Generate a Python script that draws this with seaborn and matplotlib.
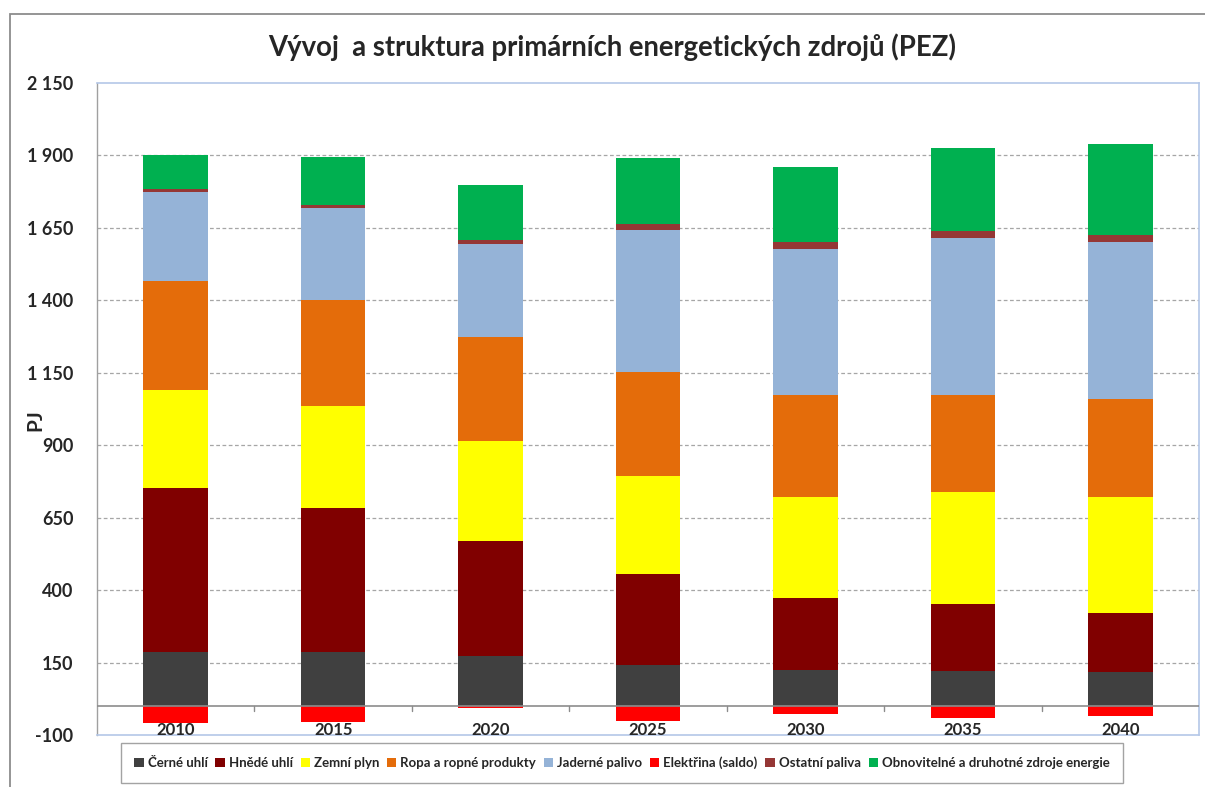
import numpy as np
import pandas as pd
import seaborn as sns
import matplotlib.pyplot as plt
from matplotlib.patches import Patch, Rectangle

years = ["2010", "2015", "2020", "2025", "2030", "2035", "2040"]

cerne_uhli = [188, 185, 174, 140, 126, 122, 116]
hnede_uhli = [566, 500, 394, 314, 248, 231, 206]
zemni_plyn = [338, 349, 345, 341, 346, 384, 401]
ropa = [373, 366, 359, 356, 352, 335, 335]
jaderne = [308, 318, 321, 491, 504, 543, 543]
ostatni = [10, 10, 14, 20, 25, 24, 23]
obnovitelne = [117, 165, 190, 229, 259, 288, 316]
elektrina = [-57, -54, -8, -50, -26, -43, -36]

y_ticks = [-100, 150, 400, 650, 900, 1150, 1400, 1650, 1900, 2150]

series = [
    ("Černé uhlí", cerne_uhli, "#404040"),
    ("Hnědé uhlí", hnede_uhli, "#800000"),
    ("Zemní plyn", zemni_plyn, "#FFFF00"),
    ("Ropa a ropné produkty", ropa, "#E46C0A"),
    ("Jaderné palivo", jaderne, "#95B3D7"),
    ("Elektřina (saldo)", elektrina, "#FF0000"),
    ("Ostatní paliva", ostatni, "#953735"),
    ("Obnovitelné a druhotné zdroje energie", obnovitelne, "#00B050"),
]

sns.set_style("white")
plt.rcParams["font.family"] = ["Lato", "DejaVu Sans"]

fig = plt.figure(figsize=(12.05, 7.87), dpi=100)
ax = fig.add_axes([97 / 1205, 1 - 735 / 787, 1102 / 1205, 652 / 787])

bottom = np.zeros(len(years))
for name, vals, col in series:
    df = pd.DataFrame({"rok": years, "PJ": vals})
    if name == "Elektřina (saldo)":
        sns.barplot(df, x="rok", y="PJ", color=col, width=0.41, ax=ax,
                    saturation=1, edgecolor="none", zorder=3)
        continue
    sns.barplot(df, x="rok", y="PJ", color=col, width=0.41, ax=ax,
                saturation=1, bottom=bottom, edgecolor="none", zorder=3)
    bottom = bottom + np.array(vals)

ax.set_xlim(-0.5, 6.5)
ax.set_ylim(-100, 2150)
ax.set_yticks(y_ticks, labels=[f"{v:,}".replace(",", " ") for v in y_ticks])
for v in y_ticks[1:-1]:
    ax.axhline(v, color="#A6A6A6", lw=0.9, ls=(0, (3, 2)), zorder=1)
ax.axhline(0, color="#8C8C8C", lw=1.2, zorder=4)

ax.set_xlabel("")
ax.set_ylabel("PJ", fontsize=15, fontweight="bold")
ax.yaxis.set_label_coords(-0.047, 0.483)
ax.tick_params(axis="y", length=6, width=1, color="#A0A0A0", direction="out", pad=11,
               labelsize=13)

# x labels just below zero line, like the category axis crossing at 0
ax.tick_params(axis="x", length=0, labelbottom=False)
for i, y in enumerate(years):
    ax.text(i, -82, y, ha="center", va="center", fontsize=12, fontweight="bold", zorder=5)
for xm in [0.5, 1.5, 2.5, 3.5, 4.5, 5.5]:
    ax.plot([xm, xm], [0, -16], color="#8C8C8C", lw=1, zorder=4)

for s in ["top", "right", "bottom"]:
    ax.spines[s].set_color("#B4C7E7")
    ax.spines[s].set_linewidth(1.2)
ax.spines["left"].set_color("#A0A0A0")
ax.spines["left"].set_linewidth(1)

# outer chart frame
fig.add_artist(Rectangle((10 / 1205, -0.05), 1.1, 1 - 14 / 787 + 0.05, transform=fig.transFigure,
                         fill=False, edgecolor="#8C8C8C", lw=1.3))

fig.text(612 / 1205, 1 - 47 / 787, "Vývoj  a struktura primárních energetických zdrojů (PEZ)",
         ha="center", va="center", fontsize=19.8, fontweight="bold")

handles = [Patch(facecolor=c, edgecolor="none", label=n) for n, v, c in series]
leg = fig.legend(handles=handles, loc="center", bbox_to_anchor=(622 / 1205, 1 - 763 / 787),
                 ncol=8, frameon=True, fancybox=False, handlelength=0.7,
                 handleheight=0.7, handletextpad=0.3, columnspacing=0.6, borderpad=1.0,
                 prop={"weight": "bold", "size": 9.5})
leg.get_frame().set_edgecolor("#8C8C8C")
leg.get_frame().set_linewidth(1)

fig.canvas.draw()
for t in ax.get_yticklabels():
    t.set_fontweight("bold")

fig.savefig("out.png", dpi=100)
